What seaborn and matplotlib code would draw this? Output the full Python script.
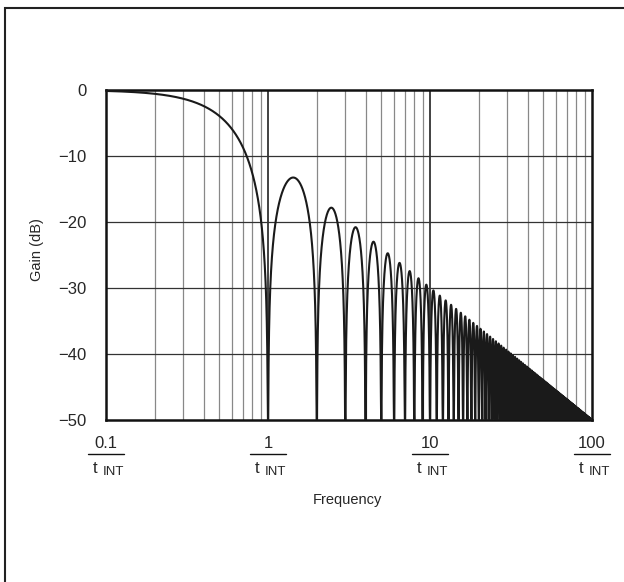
import numpy as np
import pandas as pd
import seaborn as sns
import matplotlib.pyplot as plt
import matplotlib.patches as patches

# integration time (normalised) and the sin(x)/x response of the integrator
t_int = 1.0
freq = np.unique(np.concatenate([np.logspace(-1, 2, 60000), np.arange(1, 101) / t_int]))
x = np.pi * freq * t_int
gain = 20 * np.log10(np.maximum(np.abs(np.sin(x) / x), 1e-6))
gain = np.clip(gain, -50, 0.2)

y_ticks = [0, -10, -20, -30, -40, -50]
y_labels = ["0", "\u221210", "\u221220", "\u221230", "\u221240", "\u221250"]
x_ticks = [0.1, 1, 10, 100]
x_nums = ["0.1", "1", "10", "100"]

df = pd.DataFrame({"Frequency": freq, "Gain": gain})

sns.set_style("white")
plt.rcParams['font.family'] = ['Liberation Sans', 'DejaVu Sans']

fig = plt.figure(figsize=(6.24, 5.82), dpi=100)
ax = fig.add_axes([106 / 624, 1 - 420 / 582, 486 / 624, 330 / 582])

# figure frame (runs off the right and bottom edges)
fig.patches.append(patches.Rectangle((5 / 624, -0.1), 1.2, 1 - 8 / 582 + 0.1,
                                     transform=fig.transFigure, fill=False,
                                     edgecolor="#222222", linewidth=1.5))

# vertical grid at every log step, horizontal every 10 dB
for dec in [0.1, 1, 10]:
    for m in range(1, 10):
        if dec == 0.1 and m == 1:
            continue
        ax.axvline(dec * m, color="#333333" if m == 1 else "#888888",
                   lw=1.3 if m == 1 else 0.9, zorder=1)
for yv in y_ticks[1:-1]:
    ax.axhline(yv, color="#333333", lw=0.9, zorder=1)

sns.lineplot(data=df, x="Frequency", y="Gain", ax=ax, color="#1a1a1a",
             lw=1.5, zorder=3, estimator=None, sort=False)

ax.set_xscale("log")
ax.set_xlim(0.1, 100)
ax.set_ylim(-50, 0)
ax.set_yticks(y_ticks)
ax.set_yticklabels(y_labels, fontsize=12)
ax.set_xticks(x_ticks)
ax.set_xticklabels([])
ax.minorticks_off()
ax.tick_params(axis="both", length=0, pad=14)
for s in ax.spines.values():
    s.set_linewidth(1.8)
    s.set_color("#111111")
ax.set_xlabel("")
ax.set_ylabel("")

# fraction style tick labels: n / t_INT
for xv, lab in zip(x_ticks, x_nums):
    ax.annotate(lab, xy=(xv, 0), xycoords=("data", "axes fraction"),
                xytext=(0, -17), textcoords="offset points",
                ha="center", va="center", fontsize=12, annotation_clip=False)
    ax.annotate("t", xy=(xv, 0), xycoords=("data", "axes fraction"),
                xytext=(-8, -35), textcoords="offset points",
                ha="center", va="center", fontsize=12, annotation_clip=False)
    ax.annotate("INT", xy=(xv, 0), xycoords=("data", "axes fraction"),
                xytext=(5, -37.5), textcoords="offset points",
                ha="center", va="center", fontsize=9.5, annotation_clip=False)
    px = ax.transData.transform((xv, -50))[0]
    fig.add_artist(plt.Line2D([(px - 18) / 624, (px + 18) / 624],
                              [1 - 454 / 582, 1 - 454 / 582],
                              transform=fig.transFigure, color="#111111", lw=1.0))

fig.text(37 / 624, 1 - 250 / 582, "Gain (dB)", rotation=90, ha="center",
         va="center", fontsize=10.5)
fig.text(347 / 624, 1 - 500 / 582, "Frequency", ha="center", va="center",
         fontsize=10.5)

fig.savefig("out.png", dpi=100)
